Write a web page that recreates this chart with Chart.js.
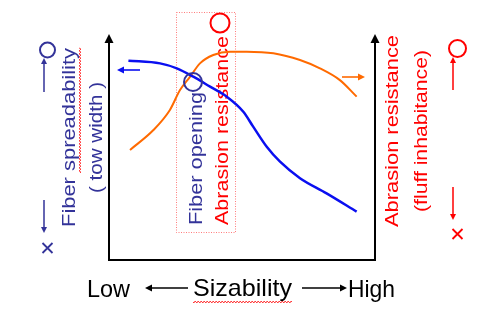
<!DOCTYPE html>
<html>
<head>
<meta charset="utf-8">
<script src="https://cdn.jsdelivr.net/npm/chart.js@4/dist/chart.umd.min.js"></script>
<style>
  html, body { margin: 0; padding: 0; background: #fff; }
  #wrap { width: 489px; height: 323px; }
</style>
</head>
<body>
<div id="wrap"><canvas id="chart" width="489" height="323"></canvas></div>
<script>
// sizability (0 = low, 10 = high) against each property, relative scale 0..10
const spreadX = [0.73, 1.92, 2.55, 3.17, 3.80, 4.42, 5.05, 5.42, 5.93, 6.43, 7.18, 8.18, 9.31];
const spreadY = [8.82, 8.70, 8.48, 8.11, 7.67, 7.23, 6.56, 5.90, 5.01, 4.35, 3.62, 2.95, 2.14];
const abrasionX = [0.79, 1.67, 2.29, 2.67, 3.05, 3.42, 3.92, 4.55, 5.18, 6.18, 7.18, 7.93, 8.68, 9.31];
const abrasionY = [4.87, 5.75, 6.64, 7.52, 8.11, 8.70, 9.07, 9.22, 9.22, 9.15, 8.85, 8.48, 7.96, 7.23];

const NAVY = '#333399';
const BLUE = '#0a0ff0';
const ORANGE = '#ff6a00';
const RED = '#ff0000';
const FONT = '"Liberation Sans", Arial, sans-serif';

function toPoints(xs, ys) {
    return xs.map((x, i) => ({ x: x, y: ys[i] }));
}

// vertical text reading bottom-to-top, baseline at bx, starting at by, stretched to len
function vtext(ctx, str, bx, by, len, size, color) {
    ctx.save();
    ctx.font = size + 'px ' + FONT;
    ctx.fillStyle = color;
    ctx.textAlign = 'left';
    ctx.textBaseline = 'alphabetic';
    const w = ctx.measureText(str).width;
    ctx.translate(bx, by);
    ctx.rotate(-Math.PI / 2);
    ctx.scale(len / w, 1);
    ctx.fillText(str, 0, 0);
    ctx.restore();
}

function htext(ctx, str, x, y, len, size, color) {
    ctx.save();
    ctx.font = size + 'px ' + FONT;
    ctx.fillStyle = color;
    ctx.textBaseline = 'alphabetic';
    const w = ctx.measureText(str).width;
    ctx.translate(x, y);
    ctx.scale(len / w, 1);
    ctx.fillText(str, 0, 0);
    ctx.restore();
}

function arrow(ctx, x1, y1, x2, y2, color, lw, head) {
    const a = Math.atan2(y2 - y1, x2 - x1);
    ctx.save();
    ctx.strokeStyle = color;
    ctx.fillStyle = color;
    ctx.lineWidth = lw;
    ctx.beginPath();
    ctx.moveTo(x1, y1);
    ctx.lineTo(x2 - Math.cos(a) * head * 0.8, y2 - Math.sin(a) * head * 0.8);
    ctx.stroke();
    ctx.beginPath();
    ctx.moveTo(x2, y2);
    ctx.lineTo(x2 - head * Math.cos(a) + head * 0.5 * Math.sin(a), y2 - head * Math.sin(a) - head * 0.5 * Math.cos(a));
    ctx.lineTo(x2 - head * Math.cos(a) - head * 0.5 * Math.sin(a), y2 - head * Math.sin(a) + head * 0.5 * Math.cos(a));
    ctx.closePath();
    ctx.fill();
    ctx.restore();
}

function ring(ctx, x, y, r, color, lw) {
    ctx.save();
    ctx.strokeStyle = color;
    ctx.lineWidth = lw;
    ctx.beginPath();
    ctx.arc(x, y, r, 0, Math.PI * 2);
    ctx.stroke();
    ctx.restore();
}

function cross(ctx, x, y, s, color) {
    ctx.save();
    ctx.strokeStyle = color;
    ctx.lineWidth = 1.8;
    ctx.beginPath();
    ctx.moveTo(x - s, y - s); ctx.lineTo(x + s, y + s);
    ctx.moveTo(x + s, y - s); ctx.lineTo(x - s, y + s);
    ctx.stroke();
    ctx.restore();
}

// spell-check style squiggle
function squiggle(ctx, x1, y1, x2, y2) {
    const len = Math.hypot(x2 - x1, y2 - y1);
    const ux = (x2 - x1) / len, uy = (y2 - y1) / len;
    ctx.save();
    ctx.strokeStyle = 'rgba(255,0,0,0.75)';
    ctx.lineWidth = 1;
    ctx.beginPath();
    for (let t = 0; t <= len; t += 1) {
        const off = Math.sin(t * Math.PI / 1.5) * 1.1;
        const px = x1 + ux * t - uy * off;
        const py = y1 + uy * t + ux * off;
        if (t === 0) ctx.moveTo(px, py); else ctx.lineTo(px, py);
    }
    ctx.stroke();
    ctx.restore();
}

const decorations = {
    id: 'decorations',
    beforeDatasetsDraw(chart) {
        const ctx = chart.ctx;
        // dotted frame round the centre labels
        ctx.save();
        ctx.strokeStyle = 'rgba(255,80,80,0.75)';
        ctx.lineWidth = 1;
        ctx.setLineDash([1, 1.5]);
        ctx.strokeRect(176.5, 12.5, 59, 220);
        ctx.restore();
        vtext(ctx, 'Fiber opening', 201.5, 225, 133, 19, NAVY);
        vtext(ctx, 'Abrasion resistance', 228, 225, 189, 19, RED);
    },
    afterDatasetsDraw(chart) {
        const ctx = chart.ctx;
        const a = chart.chartArea;
        const L = a.left, R = a.right, B = a.bottom, T = a.top;

        // axes
        ctx.save();
        ctx.strokeStyle = '#000';
        ctx.lineWidth = 2;
        ctx.beginPath();
        ctx.moveTo(L, T + 8); ctx.lineTo(L, B); ctx.lineTo(R, B); ctx.lineTo(R, T + 8);
        ctx.stroke();
        ctx.fillStyle = '#000';
        [L, R].forEach(x => {
            ctx.beginPath();
            ctx.moveTo(x, T);
            ctx.lineTo(x - 4.5, T + 9);
            ctx.lineTo(x + 4.5, T + 9);
            ctx.closePath();
            ctx.fill();
        });
        ctx.restore();

        // markers on the crossing and above the centre labels
        ring(ctx, 193, 82, 9, NAVY, 2);
        ring(ctx, 220, 23, 9.5, RED, 2);

        // direction arrows next to the curves
        arrow(ctx, 140, 70, 117, 70, BLUE, 1.6, 7);
        arrow(ctx, 342, 77, 365, 77, ORANGE, 1.6, 7);

        // left axis title
        vtext(ctx, 'Fiber spreadability', 75, 227, 179, 19, NAVY);
        vtext(ctx, '( tow width )', 102, 193, 111, 19, NAVY);
        squiggle(ctx, 80, 173, 80, 48);
        ring(ctx, 47.5, 50, 7.5, NAVY, 2);
        arrow(ctx, 44, 92, 44, 58, NAVY, 1.5, 6);
        arrow(ctx, 44, 200, 44, 233, NAVY, 1.5, 6);
        cross(ctx, 47.5, 248, 5, NAVY);

        // right axis title
        vtext(ctx, 'Abrasion resistance', 398, 227, 192, 19, RED);
        vtext(ctx, '(fluff inhabitance)', 426.5, 212, 162, 19, RED);
        ring(ctx, 457.5, 48.5, 8.5, RED, 2);
        arrow(ctx, 453, 90, 453, 57, RED, 1.5, 6);
        arrow(ctx, 453, 187, 453, 220, RED, 1.5, 6);
        cross(ctx, 457.5, 234, 5, RED);

        // x axis caption
        htext(ctx, 'Low', 87, 297, 43, 24, '#000');
        arrow(ctx, 188, 288, 145, 288, '#000', 1.5, 7);
        htext(ctx, 'Sizability', 193, 296, 99, 24, '#000');
        squiggle(ctx, 193, 302, 292, 302);
        arrow(ctx, 302, 288, 347, 288, '#000', 1.5, 7);
        htext(ctx, 'High', 348, 297, 47, 24, '#000');
    }
};

new Chart(document.getElementById('chart'), {
    type: 'line',
    data: {
        datasets: [
            {
                label: 'Fiber spreadability',
                data: toPoints(spreadX, spreadY),
                borderColor: BLUE,
                borderWidth: 2.5,
                pointRadius: 0,
                cubicInterpolationMode: 'monotone',
                fill: false
            },
            {
                label: 'Abrasion resistance',
                data: toPoints(abrasionX, abrasionY),
                borderColor: ORANGE,
                borderWidth: 2,
                pointRadius: 0,
                cubicInterpolationMode: 'monotone',
                fill: false
            }
        ]
    },
    options: {
        responsive: false,
        animation: false,
        layout: { padding: { left: 109, right: 114, top: 34, bottom: 63 } },
        scales: {
            x: { type: 'linear', min: 0, max: 10, display: false },
            y: { type: 'linear', min: 0, max: 10, display: false }
        },
        plugins: { legend: { display: false }, tooltip: { enabled: false } }
    },
    plugins: [decorations]
});
</script>
</body>
</html>
